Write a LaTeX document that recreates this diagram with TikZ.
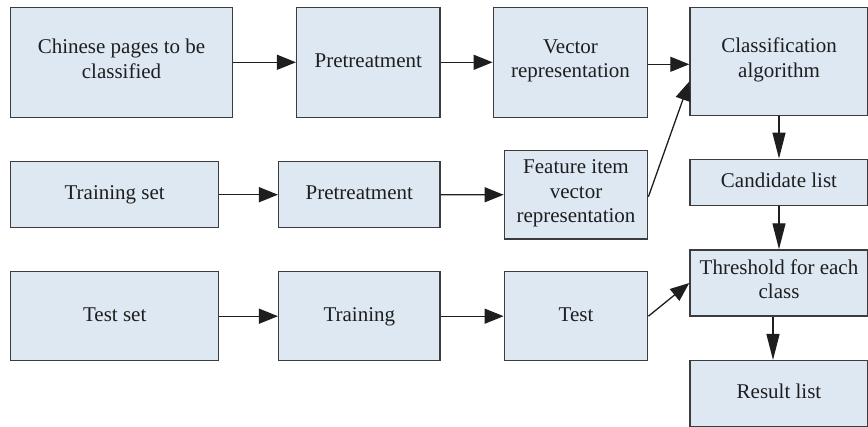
\documentclass[tikz,border=0pt]{standalone}
\usepackage{fontspec}
\setmainfont{Liberation Serif}
\usetikzlibrary{arrows.meta,positioning}
\definecolor{BoxFill}{RGB}{221,232,243}
\definecolor{BoxLine}{RGB}{60,60,60}
\definecolor{Ink}{RGB}{30,30,30}

\begin{document}
\begin{tikzpicture}[x=1pt,y=-1pt, every node/.style={font=\fontsize{21}{24.5}\selectfont,text=Ink}, b/.style={draw=BoxLine,fill=BoxFill,line width=1.4pt,inner sep=0pt,align=center,execute at begin node=\strut,execute at end node=\strut}, ar/.style={-{Triangle[length=19pt,width=15pt]},line width=1.3pt,draw=Ink}, dn/.style={-{Triangle[length=26pt,width=13pt]},line width=1.3pt,draw=Ink}]
\useasboundingbox (0,0) rectangle (868,427);
% top row
\node[b,minimum width=221.6pt,minimum height=110pt] (src) at (121.5,62.3) {Chinese pages to be\\classified};
\node[b,minimum width=143.3pt,minimum height=110pt] (pre1) at (368.3,62.3) {Pretreatment};
\node[b,minimum width=154.4pt,minimum height=110pt] (vec) at (570.5,62.3) {Vector\\representation};
% middle row
\node[b,minimum width=208pt,minimum height=66pt] (trset) at (114.7,194.7) {Training set};
\node[b,minimum width=161.3pt,minimum height=66pt] (pre2) at (359.3,194.7) {Pretreatment};
\node[b,minimum width=143.4pt,minimum height=88.3pt] (feat) at (576,194.8) {Feature item\\vector\\representation};
% bottom row
\node[b,minimum width=208pt,minimum height=89pt] (tset) at (114.7,316.2) {Test set};
\node[b,minimum width=161.3pt,minimum height=89pt] (train) at (359.3,316.2) {Training};
\node[b,minimum width=143.4pt,minimum height=89pt] (test) at (576,316.2) {Test};
% right column
\node[b,minimum width=178pt,minimum height=108.4pt] (cls) at (779,61.5) {Classification\\algorithm};
\node[b,minimum width=178pt,minimum height=46.4pt] (cand) at (779,182.5) {Candidate list};
\node[b,minimum width=178pt,minimum height=66pt] (thr) at (779,283) {Threshold for each\\class};
\node[b,minimum width=178pt,minimum height=66pt] (res) at (779,393.7) {Result list};
% connectors
\draw[ar] (src)--(pre1);
\draw[ar] (pre1)--(vec);
\draw[ar] ([yshift=-2pt]vec.east)--([yshift=-2pt]vec.east -| cls.west);
\draw[ar] (trset)--(pre2);
\draw[ar] (pre2)--(feat);
\draw[ar] ([yshift=-2pt]feat.east)--([yshift=-20pt]cls.west);
\draw[ar] (tset)--(train);
\draw[ar] (train)--(test);
\draw[ar] (test.east)--(thr.west);
\draw[dn] (cls)--(cand);
\draw[dn] (cand)--(thr);
\draw[dn] ([xshift=-6pt]thr.south)--([xshift=-6pt]res.north);
\end{tikzpicture}
\end{document}
